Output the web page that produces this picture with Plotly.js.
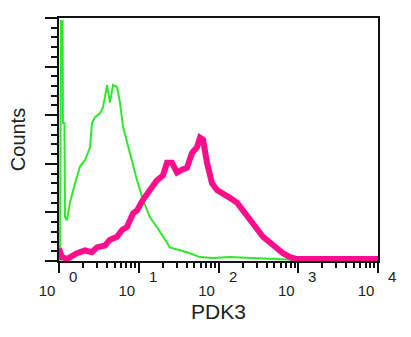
<!DOCTYPE html>
<html>
<head>
<meta charset="utf-8">
<script src="https://cdn.plot.ly/plotly-3.0.1.min.js"></script>
<style>html,body{margin:0;padding:0;background:#fff}#chart{width:411px;height:337px}</style>
</head>
<body>
<div id="chart"></div>
<script>
// Green (control) histogram: fluorescence intensity vs counts
const greenX = [1.03, 1.06, 1.11, 1.12, 1.17, 1.19, 1.26, 1.37, 1.59, 1.83, 2.12, 2.45, 2.59, 2.83, 3.27, 3.56, 3.78, 4.00, 4.36, 4.75, 5.34, 5.82, 6.35, 7.12, 8.23, 9.51, 11.3, 13.8, 16.9, 20.1, 24.6, 32.9, 43.9, 58.6, 85.3, 139, 248, 442, 723, 1000, 10000];
const greenY = [0, 247, 247, 142, 142, 45, 42, 60, 80, 97, 104, 117, 142, 148, 152, 158, 169, 181, 163, 181, 179, 163, 138, 122, 101, 83, 63, 45, 35, 25, 14, 11, 8, 4, 3, 4, 3, 2, 1, 1, 1];
// Magenta (PDK3) histogram
const pinkX = [1.0, 1.09, 1.26, 1.46, 1.68, 2.12, 2.59, 2.99, 3.78, 4.36, 5.34, 6.17, 7.12, 8.47, 9.51, 11.3, 13.8, 16.9, 20.1, 22.6, 26.1, 30.2, 34.8, 40.3, 46.5, 53.7, 58.6, 63.9, 71.8, 82.9, 95.7, 114, 139, 171, 203, 248, 304, 361, 442, 542, 644, 789, 964, 10000];
const pinkY = [13, 4, 2, 6, 8, 11, 9, 14, 16, 22, 25, 32, 35, 49, 52, 63, 73, 83, 88, 101, 101, 91, 94, 96, 111, 117, 127, 125, 101, 80, 73, 70, 65, 60, 52, 45, 35, 25, 19, 13, 8, 4, 2, 2];
// Axis ticks
const majorTicks = [1, 10, 100, 1000, 10000];
const majorTickText = ["10", "10", "10", "10", "10"];
const exponents = ["0", "1", "2", "3", "4"];
const minorTicks = [];
for (let d = 0; d < 4; d++) for (let m = 2; m <= 9; m++) minorTicks.push(m * Math.pow(10, d));

const font = "Liberation Sans, Arial, sans-serif";

const traces = [
  {x: greenX, y: greenY, type: "scatter", mode: "lines", line: {color: "#2ee82e", width: 2}, hoverinfo: "skip", showlegend: false},
  {x: pinkX, y: pinkY, type: "scatter", mode: "lines", line: {color: "#ff0d8c", width: 6}, hoverinfo: "skip", showlegend: false}
];

const annotations = majorTicks.map((v, i) => ({
  x: Math.log10(v), y: -0.065, xref: "x", yref: "paper",
  text: exponents[i], showarrow: false, xshift: 14,
  xanchor: "center", yanchor: "middle",
  font: {family: font, size: 15, color: "#222"}
}));

const layout = {
  width: 411, height: 337,
  margin: {l: 59, r: 33, t: 18, b: 76},
  paper_bgcolor: "#fff", plot_bgcolor: "#fff",
  showlegend: false,
  font: {family: font, color: "#222"},
  xaxis: {
    type: "log", range: [0, 4], showgrid: false, zeroline: false,
    showline: true, linecolor: "#111", linewidth: 2, mirror: true,
    ticks: "outside", ticklen: 10, tickwidth: 2, tickcolor: "#111",
    tickvals: majorTicks, ticktext: majorTickText,
    ticklabelshift: -12, ticklabelstandoff: 5,
    tickfont: {family: font, size: 15, color: "#222"},
    minor: {tickvals: minorTicks, ticks: "outside", ticklen: 5, tickwidth: 2, tickcolor: "#111", showgrid: false},
    title: {text: "PDK3", font: {family: font, size: 21, color: "#222"}, standoff: 6},
    automargin: false, fixedrange: true
  },
  yaxis: {
    range: [0, 250], showgrid: false, zeroline: false,
    showline: true, linecolor: "#111", linewidth: 2, mirror: true,
    ticks: "outside", ticklen: 12, tickwidth: 2, tickcolor: "#111",
    tickvals: [0, 50, 100, 150, 200, 250], showticklabels: false,
    minor: {dtick: 10, ticks: "outside", ticklen: 6, tickwidth: 2, tickcolor: "#111", showgrid: false},
    title: {text: "Counts", font: {family: font, size: 20, color: "#222"}, standoff: 14},
    automargin: false, fixedrange: true
  },
  annotations: annotations
};

Plotly.newPlot("chart", traces, layout, {staticPlot: true, displayModeBar: false});
</script>
</body>
</html>
